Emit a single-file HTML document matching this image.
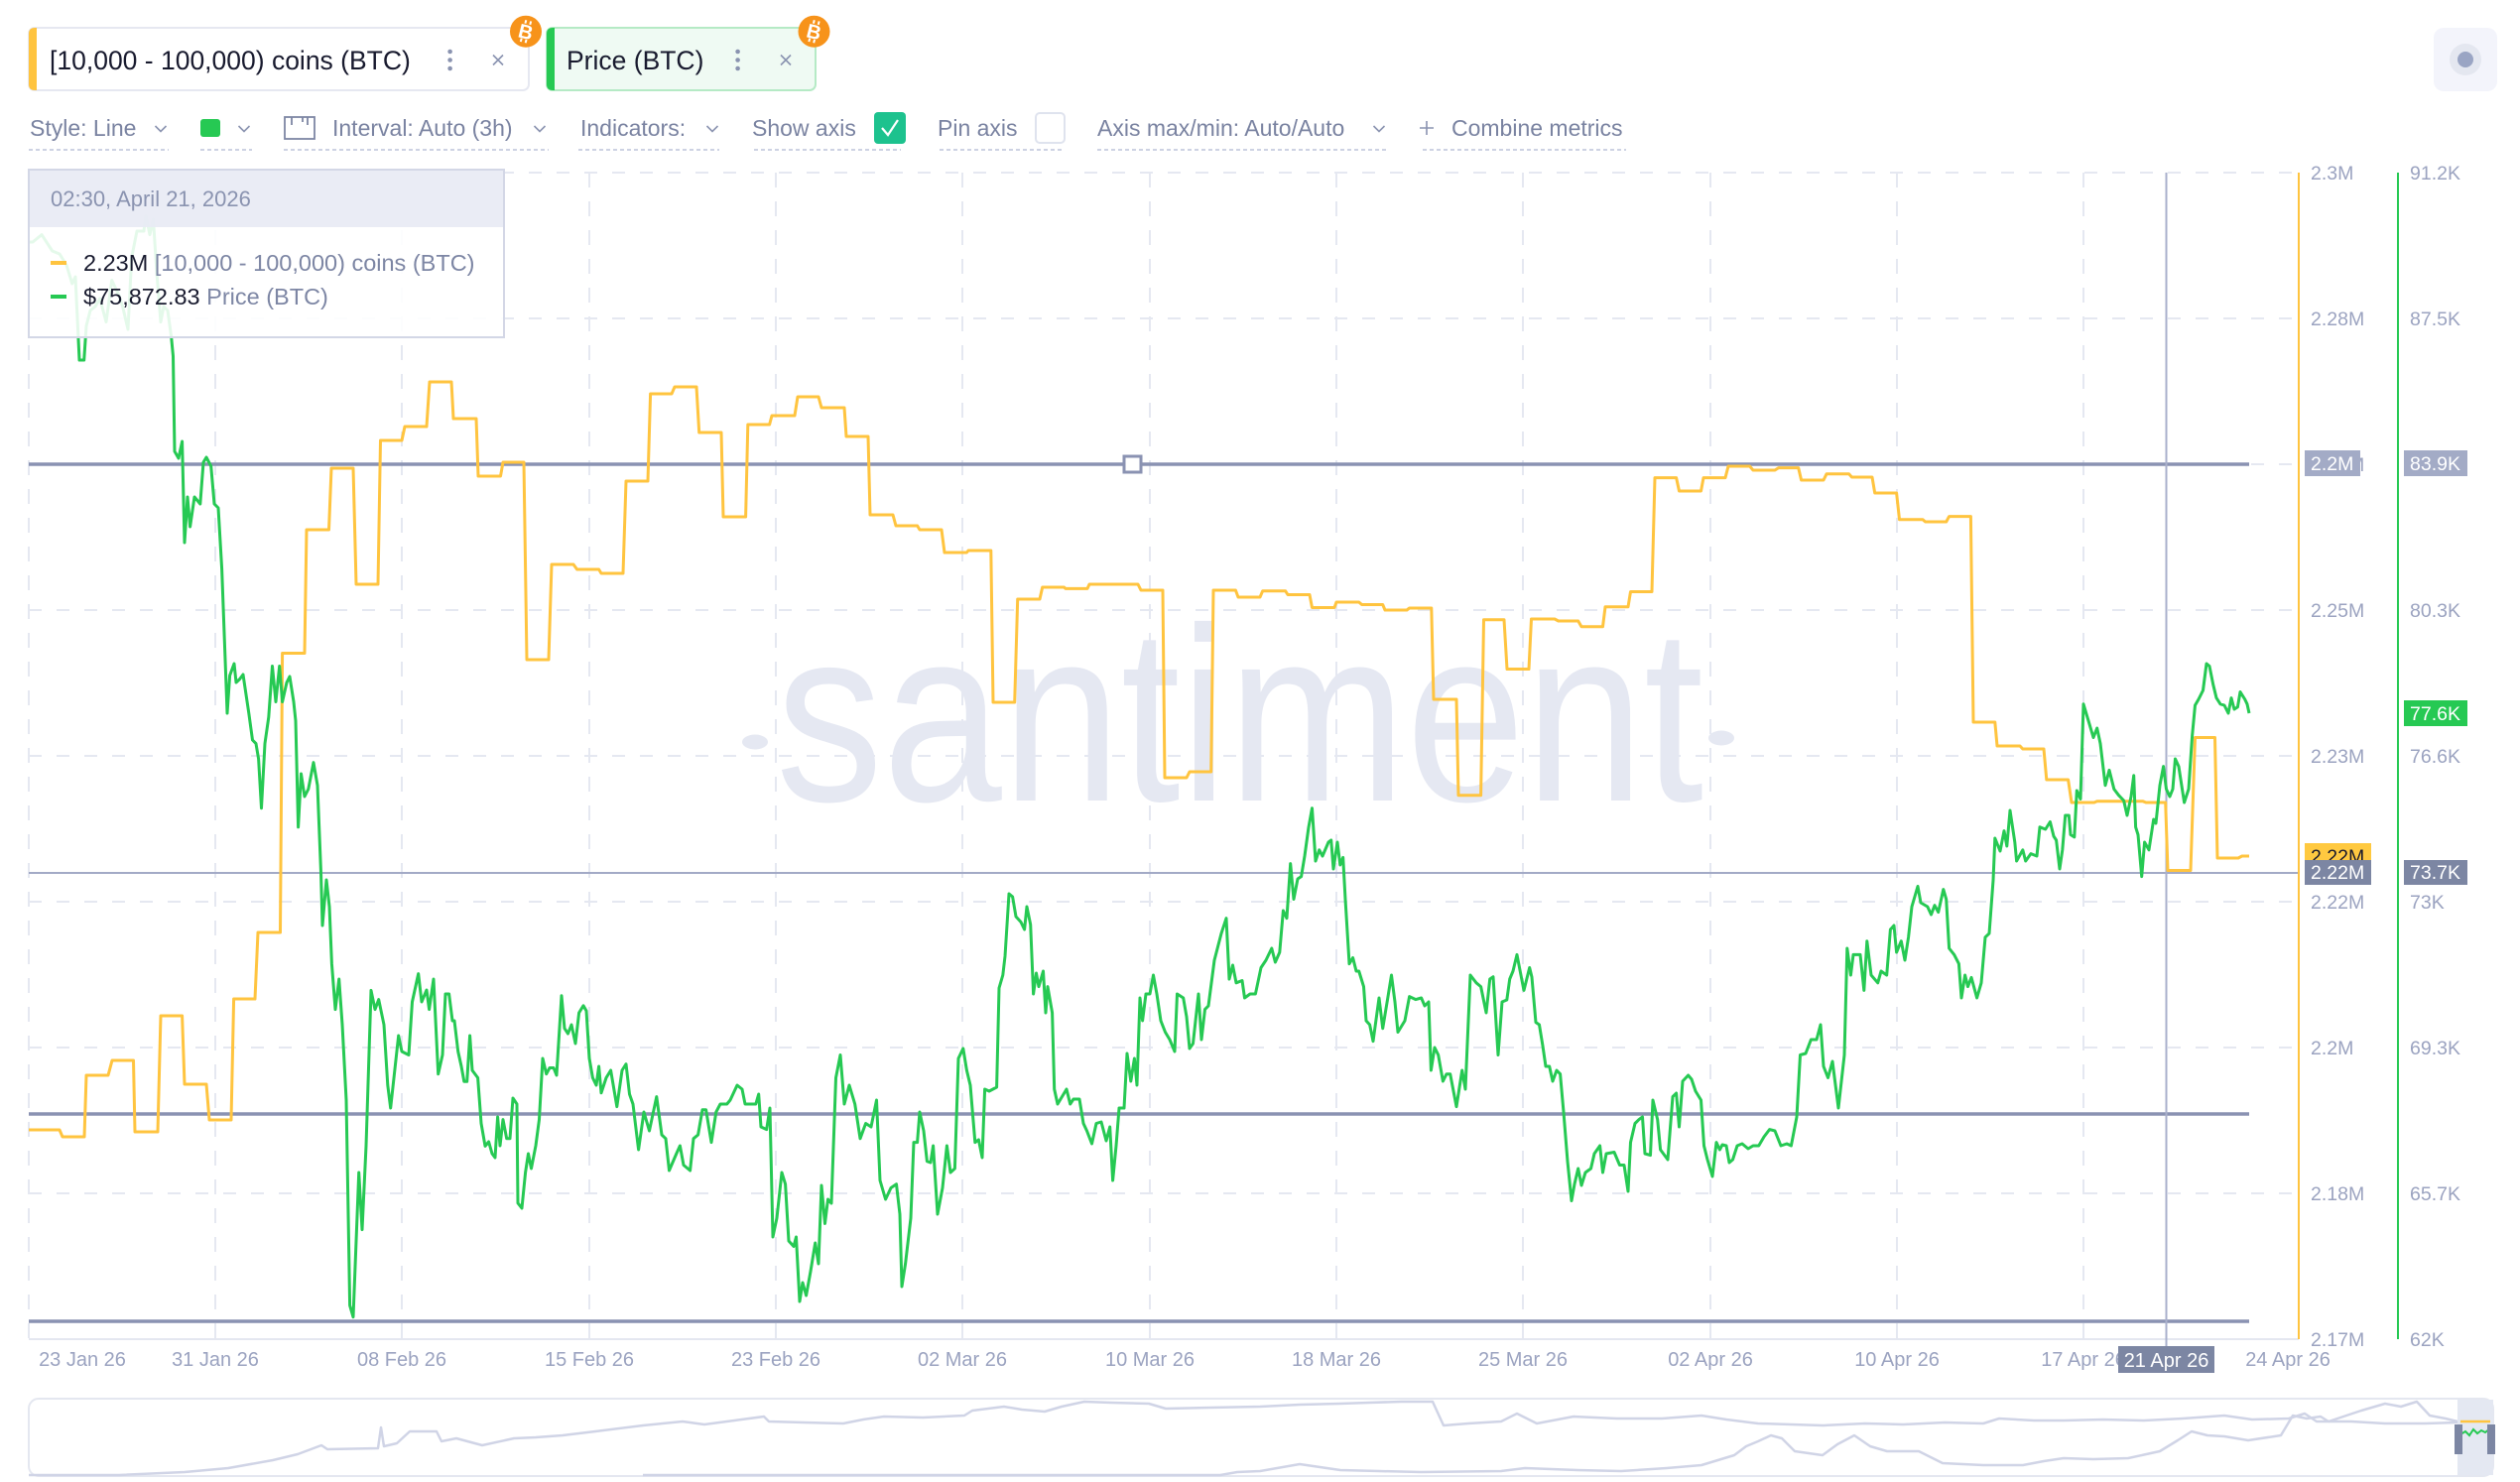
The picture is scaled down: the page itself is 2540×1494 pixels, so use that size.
<!DOCTYPE html>
<html>
<head>
<meta charset="utf-8">
<style>
html,body{margin:0;padding:0;background:#fff;}
svg{display:block;}
text{font-family:"Liberation Sans",sans-serif;}
</style>
</head>
<body>
<svg width="2540" height="1494" viewBox="0 0 2540 1494" xmlns="http://www.w3.org/2000/svg">
<rect x="0" y="0" width="2540" height="1494" fill="#ffffff"/>

<!-- ===== Tabs ===== -->
<rect x="29" y="28" width="504" height="63" rx="6" fill="#ffffff" stroke="#e6e8f1" stroke-width="2"/>
<path d="M35,28 L37,28 L37,91 L35,91 Q29,91 29,85 L29,34 Q29,28 35,28 Z" fill="#ffc43f"/>
<text x="50" y="70" font-size="26.5" fill="#181a2e">[10,000 - 100,000) coins (BTC)</text>
<circle cx="453.6" cy="52" r="2.3" fill="#8a93b0"/><circle cx="453.6" cy="60.5" r="2.3" fill="#8a93b0"/><circle cx="453.6" cy="69" r="2.3" fill="#8a93b0"/>
<path d="M497,55.5 L507,65.5 M507,55.5 L497,65.5" stroke="#8a93b0" stroke-width="1.6"/>
<circle cx="530" cy="31.7" r="16" fill="#f7931a"/>
<text x="530" y="39" font-size="20" font-weight="bold" fill="#fff" text-anchor="middle" transform="rotate(14 530 31.7)">B</text>
<path d="M527.5,20.5 L527.5,24 M532.5,20.5 L532.5,24 M527.5,39.5 L527.5,43 M532.5,39.5 L532.5,43" stroke="#fff" stroke-width="2" transform="rotate(14 530 31.7)"/>

<rect x="551" y="28" width="271" height="63" rx="6" fill="#effaf3" stroke="#b5eac5" stroke-width="2"/>
<path d="M557,28 L559,28 L559,91 L557,91 Q551,91 551,85 L551,34 Q551,28 557,28 Z" fill="#26c953"/>
<text x="571" y="70" font-size="26.5" fill="#181a2e">Price (BTC)</text>
<circle cx="743.6" cy="52" r="2.3" fill="#8a93b0"/><circle cx="743.6" cy="60.5" r="2.3" fill="#8a93b0"/><circle cx="743.6" cy="69" r="2.3" fill="#8a93b0"/>
<path d="M787,55.5 L797,65.5 M797,55.5 L787,65.5" stroke="#8a93b0" stroke-width="1.6"/>
<circle cx="820.5" cy="31.7" r="16" fill="#f7931a"/>
<text x="820.5" y="39" font-size="20" font-weight="bold" fill="#fff" text-anchor="middle" transform="rotate(14 820.5 31.7)">B</text>
<path d="M818,20.5 L818,24 M823,20.5 L823,24 M818,39.5 L818,43 M823,39.5 L823,43" stroke="#fff" stroke-width="2" transform="rotate(14 820.5 31.7)"/>

<!-- top right button -->
<rect x="2453" y="28" width="64" height="64" rx="10" fill="#f3f4fb"/>
<circle cx="2485" cy="60" r="16" fill="#e4e7f0"/>
<circle cx="2485" cy="60" r="8" fill="#9aa5c4"/>

<!-- ===== Toolbar ===== -->
<g font-size="23" fill="#7a83a1">
<text x="30" y="137">Style: Line</text>
<text x="335" y="137">Interval: Auto (3h)</text>
<text x="585" y="137">Indicators:</text>
<text x="758" y="137">Show axis</text>
<text x="945" y="137">Pin axis</text>
<text x="1106" y="137">Axis max/min: Auto/Auto</text>
<text x="1463" y="137">Combine metrics</text>
</g>
<g stroke="#8a93b0" stroke-width="1.6" fill="none">
<path d="M156.5,127 L162,132.5 L167.5,127"/>
<path d="M240.5,127 L246,132.5 L251.5,127"/>
<path d="M538.5,127 L544,132.5 L549.5,127"/>
<path d="M712.5,127 L718,132.5 L723.5,127"/>
<path d="M1384.5,127 L1390,132.5 L1395.5,127"/>
<path d="M1438,122 L1438,136 M1431,129 L1445,129"/>
</g>
<rect x="202" y="120" width="20" height="18" rx="3" fill="#26c953"/>
<g stroke="#7d86a4" stroke-width="1.8" fill="none">
<rect x="287" y="118" width="30" height="22"/>
<path d="M294,118 L294,126 M305,118 L305,123 M310,118 L310,126"/>
</g>
<rect x="881" y="113" width="32" height="32" rx="4" fill="#1dc28e"/>
<path d="M889,129 L895,136 L905,121" stroke="#fff" stroke-width="2.2" fill="none"/>
<rect x="1044" y="114" width="29" height="30" rx="4" fill="#fff" stroke="#dfe3ee" stroke-width="2"/>
<g stroke="#cdd2e3" stroke-width="2" stroke-dasharray="4 3">
<path d="M29,151 L170,151"/>
<path d="M202,151 L254,151"/>
<path d="M286,151 L553,151"/>
<path d="M583,151 L725,151"/>
<path d="M760,151 L908,151"/>
<path d="M947,151 L1071,151"/>
<path d="M1106,151 L1398,151"/>
<path d="M1434,151 L1639,151"/>
</g>

<!-- ===== Grid ===== -->
<g stroke="#e5e8f1" stroke-width="2" stroke-dasharray="15 14">
<path d="M29,174 V1350 M217,174 V1350 M405,174 V1350 M594,174 V1350 M782,174 V1350 M970,174 V1350 M1159,174 V1350 M1347,174 V1350 M1535,174 V1350 M1724,174 V1350 M1912,174 V1350 M2100,174 V1350"/>
</g>
<g stroke="#e5e8f1" stroke-width="2" stroke-dasharray="13 15">
<path d="M29,174 H2317 M29,321 H2317 M29,468 H2317 M29,615 H2317 M29,762 H2317 M29,909 H2317 M29,1056 H2317 M29,1203 H2317"/>
</g>
<path d="M29,1350 H2317" stroke="#e4e7f0" stroke-width="2"/>

<!-- watermark -->
<text x="782" y="807" font-size="250" fill="#e5e8f2" textLength="935" lengthAdjust="spacingAndGlyphs">santiment</text>
<ellipse cx="761" cy="748" rx="13" ry="7.5" fill="#e5e8f2"/>
<ellipse cx="1735" cy="744" rx="13" ry="7.5" fill="#e5e8f2"/>

<!-- drawn horizontal lines -->
<g stroke="#8a92b2" stroke-width="3.5">
<path d="M29,468 H2267"/>
<path d="M29,1123 H2267"/>
<path d="M29,1332 H2267"/>
</g>
<rect x="1133" y="460" width="17" height="16" fill="#fff" stroke="#8a92b2" stroke-width="3"/>

<!-- crosshair -->
<path d="M29,880 H2317" stroke="#a3aac6" stroke-width="2"/>
<path d="M2183.5,174 V1358" stroke="#a9b0cc" stroke-width="2"/>

<!-- yellow series -->
<polyline fill="none" stroke="#ffc43f" stroke-width="3" stroke-linejoin="round" points="29,1139 60,1139 63,1146 85,1146 87,1084 109,1084 113,1069 134.5,1069 136,1141 159,1141 162,1024 183.6,1024 186,1093 208,1093 211,1129 233,1129 235.6,1007 257,1007 260,940 282.5,940 284.6,658.5 307,658.5 309,534 331.5,534 334,472 356,472 359,589 381,589 383.5,444 405,444 408,430 430,430 433,385 455,385 457,422 480,422 482,480 504.5,480 507,466 528,466 531,665 553,665 556,569 578,569 581.6,574 603.6,574 606,578 628,578 631,485 653,485 655.6,397 677,397 680,390 702,390 704.7,436 727,436 729,521 751.6,521 753.8,428 775.6,428 778,419 801,419 804,400 825,400 828,411 851,411 853,440 875,440 877,519 900,519 903,530 924.6,530 927,534 949,534 952,557 974.4,557 976,555 998.8,555 1001,708 1022.7,708 1025.7,604 1048,604 1050.7,592 1072.5,592 1074,593.4 1096,593.4 1098,589 1147,589 1150,595 1172,595 1174,784 1196,784 1199,778 1220.7,778 1223,595 1245.4,595 1248,602 1270,602 1272.7,595.7 1295.6,595.7 1298,599.5 1320,599.5 1322.5,612.5 1345,612.5 1347,607 1369.7,607 1372.6,609.5 1393.7,609.5 1396,615 1418,615 1420.6,613 1442.8,613 1445,705 1468,705 1470,801.7 1492.6,801.7 1495.5,624.8 1516,624.8 1519,674.5 1541,674.5 1543.5,624 1567,624 1570.7,626 1590.7,626 1594,631.7 1615.5,631.7 1618,611.8 1641,611.8 1643.5,596.5 1665,596.5 1668,481.6 1689.6,481.6 1692.5,495 1714.5,495 1717,481.6 1739,481.6 1742,470 1763.6,470 1767,474 1789,474 1792.7,471.6 1812.7,471.6 1815.6,484 1838,484 1841,477.8 1863.6,477.8 1866.5,481 1887,481 1889.7,497 1911.6,497 1914.5,523.7 1938,523.7 1940.6,526 1961.7,526 1964.6,520.6 1986.4,520.6 1989,728 2010.8,728 2013,752 2036,752 2038.8,755 2060,755 2062.8,786 2084.6,786 2088,809 2110.8,809 2113.7,807.8 2160,807.8 2163,809 2182.7,809 2185,877.5 2208,877.5 2212.5,743.5 2232.5,743.5 2235,865 2256,865 2259.8,863 2267,863"/>

<!-- green series -->
<polyline fill="none" stroke="#26c953" stroke-width="3" stroke-linejoin="round" points="29,244 33,244 42,236.6 52.7,253 60,256 67,267 72.7,286 76,279 80,363 84.7,363 87,328.5 91,313 96,309 100.7,301 107,324.6 112.7,282.5 120,298 123.6,309 129,332 132.7,259.5 138,233 145,233 147,217 151,236.6 154.5,221 158,275 162,324.6 165,309 169,313 172.7,340 174.5,359 176,455 180,462 183.6,445 186,547 189,501 191.6,531 196,501 201.8,508 205,466 208,461 212.7,470 216,508 220,512 223.6,573.5 229,719 231.6,681 236,669 238,688 241.7,684.5 245,680 250.8,719 254.5,746 258,749.6 260.6,765 263.5,814.7 267,749.6 270.8,723 274.5,671.5 278,707.5 281.7,671.5 284.6,707.5 289,688 292,682 296,707.5 298,726.6 300.6,833.8 303.5,780 307,803 310.8,795.5 316,768.7 320,791.7 323.5,880 325,933 329,887 332,914 334.4,971.6 338,1017.6 341.7,987 345,1033 349,1109 352.6,1316 356,1327.7 361.7,1182 365,1239.6 369,1155 374,998.4 378,1017.6 381.7,1007.6 387,1033 390.8,1094 393.7,1117 401.7,1044 405,1060 412,1063.5 415.5,1010 421.7,981.6 425,1010 430,998 432.6,1017.6 437,987 441.7,1082.7 446,1063.5 449,1002 452.6,1002 456,1029 458,1029 461.7,1060 465,1075 467.8,1090.3 470.7,1090.3 473.6,1044 476,1079 481.6,1086.5 485,1132.5 489,1155.4 492.6,1151 496,1163 499,1167 501.6,1126 504,1155 507,1128.6 510.7,1147.8 514,1147.8 517,1107 521,1113 522,1212.8 526,1218 529.6,1182 532.5,1163 535.5,1178 540,1155 543.5,1128.6 547,1067 550.7,1082.7 554,1076.5 558,1076.5 561,1084 566,1003.8 569,1036.7 572.5,1042 576,1033 580,1052 583.6,1021 588,1013.8 591,1019 594,1067 597.4,1086.5 601,1094 603.6,1075 606,1101.8 611,1086.5 615.6,1079 621.8,1115.6 627,1079 631,1072.7 634.5,1103 638,1113 643.6,1159 649,1121 654.5,1140 661.8,1105.6 667,1144 671,1147.8 674.5,1180 681.8,1163 685.4,1155 689,1174.5 695.6,1180 699,1147.8 703.6,1144 708,1118.7 711.6,1118.7 717,1151.6 721.8,1121 726,1113 732.7,1113 736,1109 743,1094 748,1098 751,1113 758,1113 761.8,1113 764.7,1103 767,1136 772.7,1138.6 776,1117 779,1247 783,1228 788,1182 791.6,1193.7 795,1251 800,1256.5 802.5,1247 806,1312 809,1293 812.6,1306 817,1281.7 821.7,1253 825,1274 828,1195 831.5,1233.5 834.5,1209 838,1213 842.5,1086.5 847,1063.5 851,1113 856,1094 861.7,1113 867,1147.8 872.6,1132.5 878,1136 883.5,1109 887,1190 892.6,1209 898,1197.5 903.5,1193.7 907,1224 909,1297 912.6,1274 918,1228 921,1151.6 924.6,1151.6 927,1121 931,1140 934.4,1170.7 938,1172 940.6,1155 945,1224 950,1197.5 954.4,1155 958,1182 962.4,1178 966,1067 970.8,1057 974.4,1079 978,1094 982.8,1151.6 986.4,1149 990,1167 992.6,1098 997,1100 1004.6,1096 1007,996 1010.8,983 1013,964 1017,901 1020.6,904 1024,924 1029,929.5 1032.6,937 1035,914 1038.7,932 1041.6,1002 1044.5,981 1047,994.6 1051.5,979 1054,1021 1056,994.6 1060.6,1021 1062.7,1098 1066,1113 1075,1098 1078.7,1113 1082,1108 1088,1108 1092,1132.5 1095.5,1140 1100.5,1153 1105,1132.5 1110,1131 1115,1150 1118.7,1136 1121.6,1190 1125,1155 1128,1117 1133,1117 1136,1062 1139.8,1090 1143.4,1067 1146,1094 1149,1006 1151.6,1029 1155,1002 1159,1002 1162.5,983 1166,1002 1170,1029 1174.5,1040.5 1179,1048 1184,1060 1186.5,1002 1192.7,1006 1196,1025 1199,1057 1202.5,1052 1208,1002 1211,1048 1214.5,1017.6 1218,1014 1224,968 1231,941 1236,925.7 1239,987 1242.5,973 1246,990.8 1252,988.5 1254.5,1006 1260,1002 1265.4,1002 1271,975.5 1276,968 1281.8,956 1285.4,970 1289.8,960 1293.4,918 1297,925.7 1300.7,870.6 1304,906.5 1308,886 1311.6,883.6 1315,863 1319,834 1322.5,814.7 1326,868 1329.7,856.8 1333,863 1339,849 1341.7,847 1344,876 1348,849 1350.8,872 1353.7,864.4 1356,906.5 1360,971.6 1363.6,965.5 1367,979 1369.7,979 1374.5,994.6 1377,1029 1380.6,1033 1384,1049.7 1390,1006 1393.7,1036.7 1398.8,1006 1402.5,983 1406,1010 1409,1040.5 1416,1029 1420.6,1004.6 1427,1007.6 1432.6,1006 1436,1014 1440,1010 1442.4,1079 1446,1056 1449.7,1063.5 1454.4,1090 1458,1082.7 1461.7,1082.7 1468,1115.6 1473.7,1079 1477,1098 1482,983 1488,990.8 1492.6,994.6 1498,1021 1501.7,987 1505,984.7 1510,1063.5 1514,1010 1518.8,1008 1521.7,987 1525,979 1529,962.4 1532.6,981 1536,998.4 1541.7,975.5 1544,985 1548,1030.6 1551.5,1033 1555,1054.4 1558,1075 1561.7,1075 1565,1090 1569,1079 1572.6,1082.7 1576,1121 1580,1170.7 1584,1210.5 1587,1193.7 1590.7,1178 1594,1195 1598,1182 1603.5,1178 1607,1163 1612.6,1155 1615.5,1182 1619,1163 1627,1161.5 1632.5,1174.5 1637,1174.5 1641,1201 1643.5,1151.6 1648,1132.5 1652,1128.6 1655.5,1126 1658,1163 1663.5,1164.6 1666,1109 1670.7,1128.6 1673.6,1159 1681,1169 1686,1105.6 1689.6,1102 1692.5,1136 1696,1090 1701.6,1084 1705,1088 1709,1100 1714.5,1109 1717.5,1155 1721,1169 1726,1186 1730,1151.6 1733.4,1159 1736,1154 1740,1155 1743,1172 1746.5,1169 1751,1155 1756,1153 1762,1158 1767,1155 1772.7,1155 1778,1146 1783.6,1138.6 1789,1140 1795,1155 1801,1153 1805.4,1155 1811,1126 1814.5,1063.5 1820,1062 1825.4,1048 1831,1048 1835,1033 1838,1075 1842.5,1086.5 1847,1070 1853,1117 1859,1063.5 1861.8,956 1865.4,983 1868,962.4 1875,962.4 1878.8,998.4 1881.8,948.7 1886,983 1892.7,990.8 1896,979 1901.7,983 1905.4,937 1909,933 1911.6,960 1916.3,948.7 1920,968 1923.6,944.8 1927,914 1933,893.5 1936,910 1942.8,914 1946.5,922 1950,912.7 1953.7,919.6 1958.8,896.6 1961.7,906.5 1964.6,956 1969.7,962.4 1974.4,971.6 1977,1006 1980.6,983 1983.5,994.6 1987,985.4 1992.6,1006 1997,990.8 2001,944.8 2005,941 2009,887.4 2010.8,845 2016,858 2020,837.6 2022.8,853 2026,817 2030.8,849 2032.6,868 2038.8,856.8 2041.7,868 2047,860.6 2053,863 2056,833.8 2061.7,836 2066.4,828.5 2070,843 2072.6,847 2076,876 2078.8,856.8 2081.7,822 2085.3,822 2087,841.5 2090.8,843.8 2093.3,797 2097,805.5 2100,709.8 2105,726.6 2110,743.5 2113.7,734 2117,749.6 2122,791.7 2126,776.4 2130.8,795.5 2135.5,801.7 2140.6,807 2144,822 2148,803 2150.7,781.7 2152.6,833.8 2155,841.5 2158.7,883.6 2161.6,849 2166,856.8 2170.7,826 2173,830 2177,791.7 2180.6,772.6 2183.5,795.5 2187,803 2190,795.5 2192.5,765 2196,772.6 2201.6,809 2206,795.5 2209.6,742 2212.5,711 2216,705 2220.5,696 2224,669 2227,671.5 2230.7,690 2234,703.6 2238,709.8 2242,711 2246,719 2249,703.6 2252,715 2255.4,712.8 2258,697.5 2262.7,705 2265,709.8 2267,719"/>

<!-- axes -->
<path d="M2317,174 V1350" stroke="#ffc43f" stroke-width="2"/>
<path d="M2417,174 V1350" stroke="#26c953" stroke-width="2"/>

<!-- y labels -->
<g font-size="19.5" fill="#9ba3c0">
<text x="2329" y="181">2.3M</text>
<text x="2329" y="328">2.28M</text>
<text x="2329" y="475">2.27M</text>
<text x="2329" y="622">2.25M</text>
<text x="2329" y="769">2.23M</text>
<text x="2329" y="916">2.22M</text>
<text x="2329" y="1063">2.2M</text>
<text x="2329" y="1210">2.18M</text>
<text x="2329" y="1357">2.17M</text>
<text x="2429" y="181">91.2K</text>
<text x="2429" y="328">87.5K</text>
<text x="2429" y="622">80.3K</text>
<text x="2429" y="769">76.6K</text>
<text x="2429" y="916">73K</text>
<text x="2429" y="1063">69.3K</text>
<text x="2429" y="1210">65.7K</text>
<text x="2429" y="1357">62K</text>
</g>
<rect x="2323" y="454" width="56" height="26" fill="#a3abc6"/>
<text x="2329" y="474" font-size="19.5" fill="#fff">2.2M</text>
<rect x="2423" y="454" width="64" height="26" fill="#a3abc6"/>
<text x="2429" y="474" font-size="19.5" fill="#fff">83.9K</text>
<rect x="2423" y="706" width="64" height="26" fill="#26c953"/>
<text x="2429" y="726" font-size="19.5" fill="#fff">77.6K</text>
<rect x="2323" y="850" width="67" height="24" fill="#ffc940"/>
<text x="2329" y="870" font-size="19.5" fill="#1a1a2e">2.22M</text>
<rect x="2323" y="867" width="67" height="25" fill="#7c86a3"/>
<text x="2329" y="886" font-size="19.5" fill="#fff">2.22M</text>
<rect x="2423" y="867" width="64" height="25" fill="#7c86a3"/>
<text x="2429" y="886" font-size="19.5" fill="#fff">73.7K</text>

<!-- x labels -->
<g font-size="20" fill="#9ba3c0" text-anchor="middle">
<text x="83" y="1377">23 Jan 26</text>
<text x="217" y="1377">31 Jan 26</text>
<text x="405" y="1377">08 Feb 26</text>
<text x="594" y="1377">15 Feb 26</text>
<text x="782" y="1377">23 Feb 26</text>
<text x="970" y="1377">02 Mar 26</text>
<text x="1159" y="1377">10 Mar 26</text>
<text x="1347" y="1377">18 Mar 26</text>
<text x="1535" y="1377">25 Mar 26</text>
<text x="1724" y="1377">02 Apr 26</text>
<text x="1912" y="1377">10 Apr 26</text>
<text x="2100" y="1377">17 Apr 26</text>
<text x="2306" y="1377">24 Apr 26</text>
</g>
<rect x="2135" y="1357" width="97" height="27" fill="#7c86a3"/>
<text x="2183.5" y="1378" font-size="20" fill="#fff" text-anchor="middle">21 Apr 26</text>

<!-- ===== Tooltip ===== -->
<rect x="29" y="171" width="479" height="169" fill="#ffffff" fill-opacity="0.88" stroke="#d3d7e6" stroke-width="2"/>
<rect x="30" y="172" width="477" height="57" fill="#e8ebf4" fill-opacity="0.93"/>
<text x="51" y="208" font-size="22" fill="#8a93b0">02:30, April 21, 2026</text>
<rect x="51" y="263" width="16" height="4" fill="#ffc43f"/>
<rect x="51" y="297" width="16" height="4" fill="#26c953"/>
<text x="84" y="273" font-size="23.5" fill="#7d86a4"><tspan fill="#181a2e">2.23M</tspan> [10,000 - 100,000) coins (BTC)</text>
<text x="84" y="307" font-size="23.5" fill="#7d86a4"><tspan fill="#181a2e">$75,872.83</tspan> Price (BTC)</text>

<!-- ===== Navigator ===== -->
<rect x="29" y="1410" width="2484" height="78" rx="10" fill="#fff" stroke="#e4e7f0" stroke-width="2"/>
<polyline fill="none" stroke="#d0d4e6" stroke-width="2.5" stroke-linejoin="round" points="29,1487 120,1487 186,1484 230,1480 275,1472 300,1466 324,1457 330,1461 381,1460 384,1439 387,1458 400,1455 413,1443 440,1443 445,1453 460,1450 486,1457 518,1450 540,1449 567,1447 600,1443 648,1437 688,1433 710,1436 740,1432 770,1428 775,1433 810,1434 850,1435 870,1431 891,1428 930,1429 972,1427 980,1422 1012,1418 1030,1421 1053,1423 1070,1418 1093,1413 1120,1414 1158,1415 1175,1420 1220,1419 1270,1418 1310,1416 1351,1415 1380,1414 1412,1413 1444,1413 1455,1437 1480,1435 1513,1433 1529,1425 1549,1435 1586,1428 1630,1430 1675,1430 1715,1427 1740,1431 1772,1435 1837,1437 1880,1435 1918,1436 1960,1434 1999,1435 2015,1430 2050,1432 2080,1432 2120,1431 2161,1432 2200,1430 2242,1427 2270,1431 2307,1430 2323,1425 2335,1433 2370,1433 2404,1435 2444,1435 2477,1434"/>
<polyline fill="none" stroke="#d0d4e6" stroke-width="2.5" stroke-linejoin="round" points="648,1487 1230,1487 1247,1484 1270,1483 1310,1476 1351,1482 1390,1483 1432,1484 1513,1483 1537,1480 1590,1482 1634,1483 1680,1480 1715,1477 1748,1467 1760,1458 1772,1453 1785,1447 1796,1450 1809,1463 1837,1467 1852,1456 1869,1447 1885,1458 1902,1463 1934,1463 1958,1475 1999,1477 2039,1477 2060,1473 2080,1470 2110,1471 2145,1470 2177,1463 2195,1452 2209,1443 2225,1447 2242,1448 2266,1452 2299,1447 2311,1427 2325,1430 2339,1428 2347,1433 2365,1427 2380,1422 2404,1415 2420,1418 2436,1413 2449,1427 2465,1430 2477,1433"/>
<rect x="2477" y="1411" width="36" height="76" fill="#e4e8f2"/>
<path d="M2480,1433 H2510" stroke="#ffc43f" stroke-width="2.5"/>
<polyline fill="none" stroke="#26c953" stroke-width="2" points="2480,1446 2485,1443 2489,1447 2493,1441 2497,1445 2501,1442 2505,1444 2510,1440"/>
<rect x="2474" y="1436" width="8" height="30" fill="#7c86a3"/>
<rect x="2507" y="1436" width="8" height="30" fill="#7c86a3"/>
</svg>
</body>
</html>
